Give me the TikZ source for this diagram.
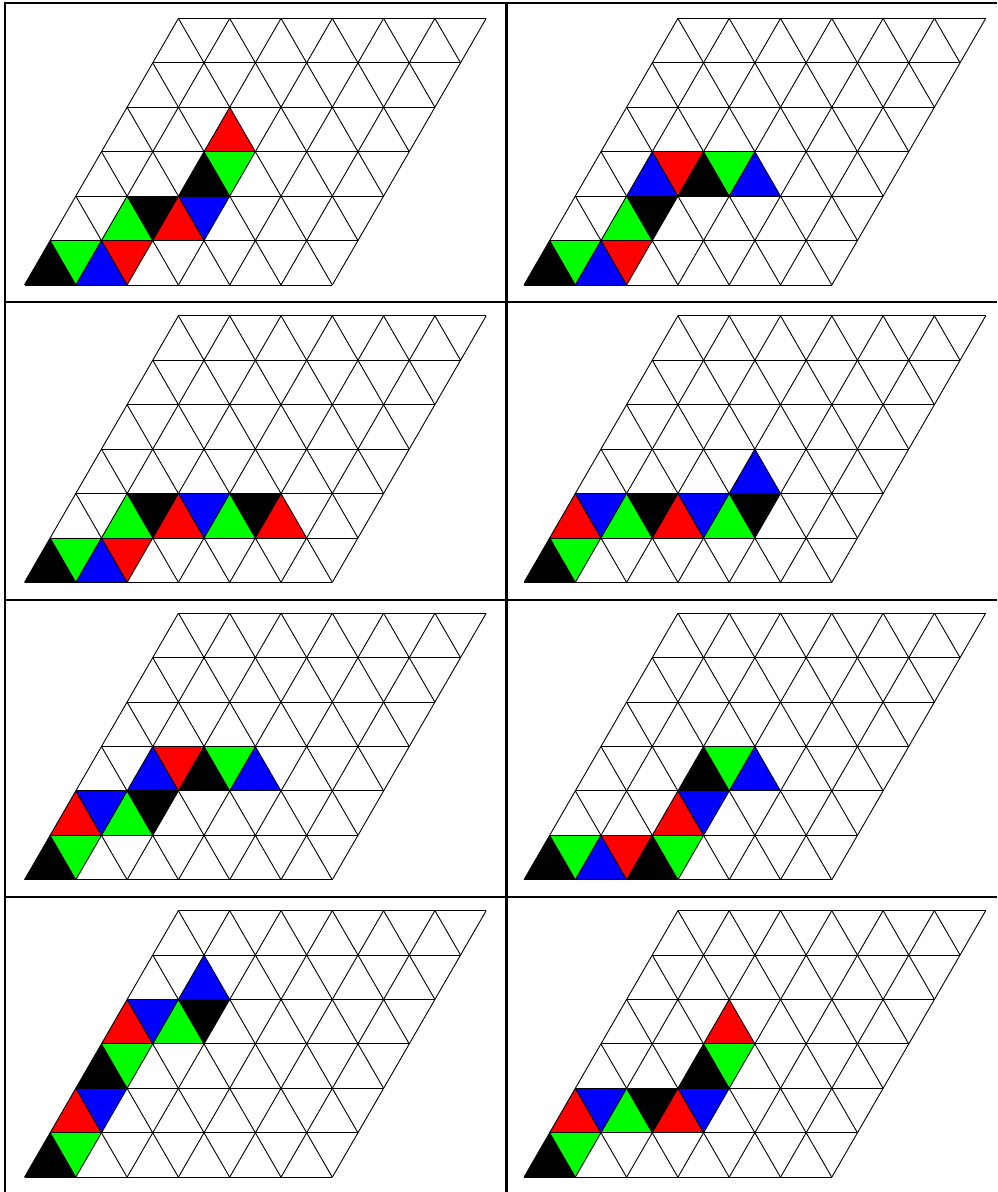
\documentclass[tikz,border=0pt]{standalone}
\usepackage{xcolor}
\usepackage{tikz}

% skewed lattice: one unit = one side of a triangle
\tikzset{
  lattice/.style={x={(51.3pt,0pt)}, y={(25.65pt,44.43pt)}},
  gridline/.style={draw=black, line width=0.9pt},
  frameline/.style={draw=black, line width=2.6pt}
}
\newcommand{\uptri}[3]{\fill[#1] (#2,#3) -- ++(1,0) -- ++(-1,1) -- cycle;}
\newcommand{\dntri}[3]{\fill[#1] (#2+1,#3) -- ++(0,1) -- ++(-1,0) -- cycle;}
\newcommand{\trigrid}{
  \foreach \k in {0,...,6} {
    \draw[gridline] (0,\k) -- (6,\k);
    \draw[gridline] (\k,0) -- (\k,6);
  }
  \foreach \k in {1,...,6} \draw[gridline] (\k,0) -- (0,\k);
  \foreach \k in {1,...,5} \draw[gridline] (6,\k) -- (\k,6);
}

\begin{document}
\begin{tikzpicture}[x=1pt, y=1pt]
    \useasboundingbox (0,0) rectangle (997,1192);
    \fill[white] (0,0) rectangle (997,1192);

    % panel 1
    \begin{scope}[shift={(24.5pt,907pt)}, lattice]
        \uptri{black}{0}{0} \dntri{green}{0}{0} \uptri{blue}{1}{0} \dntri{red}{1}{0}
        \uptri{green}{1}{1} \dntri{black}{1}{1} \uptri{red}{2}{1} \dntri{blue}{2}{1}
        \uptri{black}{2}{2} \dntri{green}{2}{2}
        \uptri{red}{2}{3}
        \trigrid
    \end{scope}
    % panel 2
    \begin{scope}[shift={(524pt,907pt)}, lattice]
        \uptri{black}{0}{0} \dntri{green}{0}{0} \uptri{blue}{1}{0} \dntri{red}{1}{0}
        \uptri{green}{1}{1} \dntri{black}{1}{1}
        \uptri{blue}{1}{2} \dntri{red}{1}{2} \uptri{black}{2}{2} \dntri{green}{2}{2} \uptri{blue}{3}{2}
        \trigrid
    \end{scope}
    % panel 3
    \begin{scope}[shift={(24.5pt,609.6pt)}, lattice]
        \uptri{black}{0}{0} \dntri{green}{0}{0} \uptri{blue}{1}{0} \dntri{red}{1}{0}
        \uptri{green}{1}{1} \dntri{black}{1}{1} \uptri{red}{2}{1} \dntri{blue}{2}{1}
        \uptri{green}{3}{1} \dntri{black}{3}{1} \uptri{red}{4}{1}
        \trigrid
    \end{scope}
    % panel 4
    \begin{scope}[shift={(524pt,609.6pt)}, lattice]
        \uptri{black}{0}{0} \dntri{green}{0}{0}
        \uptri{red}{0}{1} \dntri{blue}{0}{1} \uptri{green}{1}{1} \dntri{black}{1}{1}
        \uptri{red}{2}{1} \dntri{blue}{2}{1} \uptri{green}{3}{1} \dntri{black}{3}{1}
        \uptri{blue}{3}{2}
        \trigrid
    \end{scope}
    % panel 5
    \begin{scope}[shift={(24.5pt,312.2pt)}, lattice]
        \uptri{black}{0}{0} \dntri{green}{0}{0}
        \uptri{red}{0}{1} \dntri{blue}{0}{1} \uptri{green}{1}{1} \dntri{black}{1}{1}
        \uptri{blue}{1}{2} \dntri{red}{1}{2} \uptri{black}{2}{2} \dntri{green}{2}{2} \uptri{blue}{3}{2}
        \trigrid
    \end{scope}
    % panel 6
    \begin{scope}[shift={(524pt,312.2pt)}, lattice]
        \uptri{black}{0}{0} \dntri{green}{0}{0} \uptri{blue}{1}{0} \dntri{red}{1}{0}
        \uptri{black}{2}{0} \dntri{green}{2}{0}
        \uptri{red}{2}{1} \dntri{blue}{2}{1}
        \uptri{black}{2}{2} \dntri{green}{2}{2} \uptri{blue}{3}{2}
        \trigrid
    \end{scope}
    % panel 7
    \begin{scope}[shift={(24.5pt,14.8pt)}, lattice]
        \uptri{black}{0}{0} \dntri{green}{0}{0}
        \uptri{red}{0}{1} \dntri{blue}{0}{1}
        \uptri{black}{0}{2} \dntri{green}{0}{2}
        \uptri{red}{0}{3} \dntri{blue}{0}{3} \uptri{green}{1}{3} \dntri{black}{1}{3}
        \uptri{blue}{1}{4}
        \trigrid
    \end{scope}
    % panel 8
    \begin{scope}[shift={(524pt,14.8pt)}, lattice]
        \uptri{black}{0}{0} \dntri{green}{0}{0}
        \uptri{red}{0}{1} \dntri{blue}{0}{1} \uptri{green}{1}{1} \dntri{black}{1}{1}
        \uptri{red}{2}{1} \dntri{blue}{2}{1}
        \uptri{black}{2}{2} \dntri{green}{2}{2}
        \uptri{red}{2}{3}
        \trigrid
    \end{scope}

    % table rules
    \draw[frameline] (5,0) -- (5,1189) -- (997,1189);
    \draw[frameline] (506.5,0) -- (506.5,1189);
    \foreach \y in {890, 592, 295} \draw[frameline] (5,\y) -- (997,\y);
\end{tikzpicture}
\end{document}
